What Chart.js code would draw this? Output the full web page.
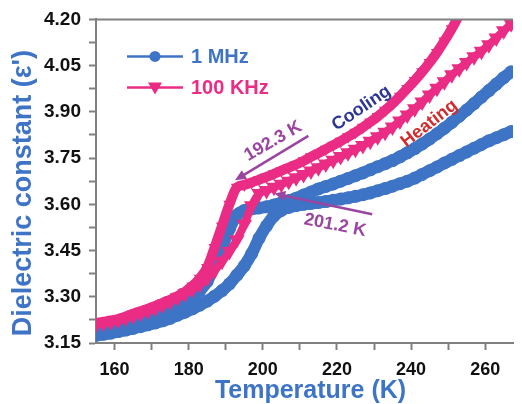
<!DOCTYPE html>
<html lang="en">
<head>
<meta charset="UTF-8" />
<title>Dielectric constant vs temperature</title>
<script src="https://cdn.jsdelivr.net/npm/chart.js"></script>
<style>
  html, body { margin:0; padding:0; background:#fff; }
</style>
</head>
<body>
<canvas id="chart" width="522" height="404"></canvas>

<script>
// ---- data (temperature in K, dielectric constant) ----
const temps = [155,157,159,161,163,165,167,169,171,173,175,177,179,181,183,185,187,189,191,193,
               195,197,199,201,203,205,207,209,211,213,215,217,219,221,223,225,227,229,231,233,
               235,237,239,241,243,245,247,249,251,253,255,257,259,261,263,265,267];

// 1 MHz, cooling (upper blue)
const mhzCool = [3.185,3.189,3.193,3.198,3.204,3.210,3.218,3.226,3.234,3.244,3.255,3.267,3.280,3.297,3.320,3.350,3.400,3.460,3.520,3.565,
                 3.580,3.585,3.588,3.592,3.598,3.605,3.612,3.620,3.630,3.640,3.650,3.658,3.666,3.675,3.684,3.693,3.702,3.712,3.722,3.732,
                 3.742,3.754,3.767,3.781,3.796,3.812,3.829,3.847,3.866,3.886,3.906,3.927,3.948,3.969,3.990,4.011,4.030];
// 1 MHz, heating (lower blue)
const mhzHeat = [3.175,3.178,3.182,3.187,3.192,3.197,3.203,3.209,3.215,3.222,3.230,3.240,3.250,3.261,3.273,3.286,3.302,3.320,3.342,3.370,
                 3.400,3.440,3.490,3.530,3.562,3.580,3.590,3.596,3.600,3.603,3.606,3.609,3.613,3.617,3.621,3.626,3.631,3.637,3.644,3.651,
                 3.659,3.667,3.675,3.685,3.697,3.709,3.721,3.734,3.746,3.758,3.770,3.782,3.794,3.806,3.816,3.826,3.836];
// 100 KHz, cooling (upper pink)
const khzCool = [3.215,3.219,3.223,3.228,3.236,3.245,3.253,3.261,3.270,3.280,3.290,3.302,3.316,3.335,3.360,3.395,3.460,3.530,3.600,3.655,
                 3.663,3.671,3.680,3.689,3.699,3.709,3.719,3.729,3.741,3.754,3.766,3.779,3.792,3.805,3.819,3.834,3.850,3.867,3.885,3.905,
                 3.927,3.951,3.976,4.002,4.030,4.060,4.093,4.130,4.170,4.215,null,null,null,null,null,null,null];
// 100 KHz, heating (lower pink)
const khzHeat = [3.210,3.214,3.218,3.223,3.230,3.238,3.246,3.254,3.263,3.273,3.284,3.297,3.310,3.324,3.340,3.360,3.385,3.415,3.447,3.485,
                 3.535,3.595,3.635,3.645,3.655,3.665,3.675,3.686,3.697,3.708,3.719,3.731,3.743,3.755,3.767,3.779,3.791,3.805,3.819,3.834,
                 3.851,3.870,3.890,3.910,3.932,3.955,3.977,3.998,4.020,4.040,4.060,4.079,4.097,4.118,4.140,4.163,4.186];

const xTickVals  = [160,170,180,190,200,210,220,230,240,250,260];
const xLabelVals = [160,180,200,220,240,260];
const yTickVals  = [3.15,3.225,3.30,3.375,3.45,3.525,3.60,3.675,3.75,3.825,3.90,3.975,4.05,4.125,4.20];
const yLabelVals = [3.15,3.30,3.45,3.60,3.75,3.90,4.05,4.20];

// ---- colours ----
const BLUE   = '#3e74c5';
const PINK   = '#ea2c85';
const PURPLE = '#9a45a0';
const FONT   = "'Liberation Sans', Arial, sans-serif";

// ---- annotations (data coordinates) ----
const notes = [
  { text:'192.3 K', x:202.8, y:3.805, angle:-30, color:PURPLE },
  { text:'201.2 K', x:219.5, y:3.532, angle:11,  color:PURPLE },
  { text:'Cooling', x:226.6, y:3.912, angle:-34, color:'#2d3593' },
  { text:'Heating', x:244.9, y:3.862, angle:-38, color:'#d22b2b' }
];
const arrows = [
  { from:[212.3,3.822], to:[192.5,3.678] },
  { from:[229.5,3.568], to:[203.1,3.635] }
];
const legendItems = [
  { label:'1 MHz',   color:BLUE, marker:'circle' },
  { label:'100 KHz', color:PINK, marker:'triangle' }
];

const series = (label, values, color, style, order, lineW, radius) => ({
  label,
  data: temps.map((t,i) => ({ x:t, y:values[i] })),
  borderColor: color,
  backgroundColor: color,
  borderWidth: lineW,
  pointStyle: style,
  pointRotation: style === 'triangle' ? 180 : 0,
  pointRadius: radius,
  pointBorderWidth: 0,
  pointBackgroundColor: color,
  cubicInterpolationMode: 'monotone',
  spanGaps: false,
  fill: false,
  order
});

// custom drawing: frame top, legend, axis titles, arrows and labels
const extras = {
  id: 'extras',
  afterDatasetsDraw(chart) {
    const { ctx, chartArea: a, scales: { x, y } } = chart;
    ctx.save();

    // top frame line
    ctx.strokeStyle = '#808080';
    ctx.lineWidth = 2;
    ctx.beginPath();
    ctx.moveTo(a.left, a.top);
    ctx.lineTo(a.right, a.top);
    ctx.stroke();

    // legend
    legendItems.forEach((it, i) => {
      const ly = a.top + 37 + i * 31;
      const lx = a.left + 31;
      ctx.strokeStyle = it.color;
      ctx.fillStyle = it.color;
      ctx.lineWidth = 2.5;
      ctx.beginPath();
      ctx.moveTo(lx, ly);
      ctx.lineTo(lx + 56, ly);
      ctx.stroke();
      const cx = lx + 28;
      ctx.beginPath();
      if (it.marker === 'circle') {
        ctx.arc(cx, ly, 5.5, 0, Math.PI * 2);
      } else {
        ctx.moveTo(cx - 7, ly - 5);
        ctx.lineTo(cx + 7, ly - 5);
        ctx.lineTo(cx, ly + 7);
        ctx.closePath();
      }
      ctx.fill();
      ctx.font = `bold 20px ${FONT}`;
      ctx.textBaseline = 'middle';
      ctx.textAlign = 'left';
      ctx.fillText(it.label, lx + 64, ly + 1);
    });

    // arrows
    arrows.forEach(ar => {
      const x1 = x.getPixelForValue(ar.from[0]), y1 = y.getPixelForValue(ar.from[1]);
      const x2 = x.getPixelForValue(ar.to[0]),   y2 = y.getPixelForValue(ar.to[1]);
      const ang = Math.atan2(y2 - y1, x2 - x1);
      ctx.strokeStyle = PURPLE;
      ctx.fillStyle = PURPLE;
      ctx.lineWidth = 2.5;
      ctx.beginPath();
      ctx.moveTo(x1, y1);
      ctx.lineTo(x2 - Math.cos(ang) * 8, y2 - Math.sin(ang) * 8);
      ctx.stroke();
      ctx.beginPath();
      ctx.moveTo(x2, y2);
      ctx.lineTo(x2 - Math.cos(ang) * 11 + Math.sin(ang) * 5, y2 - Math.sin(ang) * 11 - Math.cos(ang) * 5);
      ctx.lineTo(x2 - Math.cos(ang) * 11 - Math.sin(ang) * 5, y2 - Math.sin(ang) * 11 + Math.cos(ang) * 5);
      ctx.closePath();
      ctx.fill();
    });

    // rotated labels
    notes.forEach(n => {
      ctx.save();
      ctx.translate(x.getPixelForValue(n.x), y.getPixelForValue(n.y));
      ctx.rotate(n.angle * Math.PI / 180);
      ctx.font = `bold 18px ${FONT}`;
      ctx.fillStyle = n.color;
      ctx.textAlign = 'center';
      ctx.textBaseline = 'middle';
      ctx.fillText(n.text, 0, 0);
      ctx.restore();
    });

    // axis titles
    ctx.fillStyle = BLUE;
    ctx.textAlign = 'center';
    ctx.textBaseline = 'middle';
    ctx.font = `bold 25px ${FONT}`;
    ctx.fillText('Temperature (K)', (a.left + a.right) / 2 + 6, 391);
    ctx.save();
    ctx.translate(24, (a.top + a.bottom) / 2 + 12);
    ctx.rotate(-Math.PI / 2);
    ctx.font = `bold 27px ${FONT}`;
    ctx.fillText("Dielectric constant (\u03B5')", 0, 0);
    ctx.restore();

    ctx.restore();
  }
};

new Chart(document.getElementById('chart'), {
  type: 'line',
  data: {
    datasets: [
      series('100 KHz cooling', khzCool, PINK, 'triangle', 1, 10, 7),
      series('100 KHz heating', khzHeat, PINK, 'triangle', 2, 8, 9),
      series('1 MHz cooling',   mhzCool, BLUE, 'circle', 3, 12, 6.5),
      series('1 MHz heating',   mhzHeat, BLUE, 'circle', 4, 12, 6.5)
    ]
  },
  options: {
    responsive: false,
    animation: false,
    devicePixelRatio: 1,
    layout: { padding: { top: 18, right: 0, left: 0, bottom: 0 } },
    plugins: { legend: { display: false }, tooltip: { enabled: false } },
    scales: {
      x: {
        type: 'linear',
        min: 155,
        max: 267.5,
        afterBuildTicks: s => { s.ticks = xTickVals.map(v => ({ value: v })); },
        afterFit: s => { s.height = 61; },
        ticks: {
          autoSkip: false,
          maxRotation: 0,
          padding: 9,
          color: '#111',
          font: { family: FONT, size: 18, weight: 'bold' },
          callback: v => xLabelVals.includes(v) ? String(v) : ''
        },
        grid: { drawOnChartArea: false, drawTicks: true, tickLength: 7, tickColor: '#808080', tickWidth: 2 },
        border: { color: '#808080', width: 2 }
      },
      y: {
        min: 3.15,
        max: 4.20,
        afterBuildTicks: s => { s.ticks = yTickVals.map(v => ({ value: v })); },
        afterFit: s => { s.width = 96; },
        ticks: {
          autoSkip: false,
          padding: 8,
          color: '#111',
          font: { family: FONT, size: 19, weight: 'bold' },
          callback: v => yLabelVals.some(l => Math.abs(l - v) < 1e-6) ? v.toFixed(2) : ''
        },
        grid: { drawOnChartArea: false, drawTicks: true, tickLength: 7, tickColor: '#808080', tickWidth: 2 },
        border: { color: '#808080', width: 2 }
      }
    }
  },
  plugins: [extras]
});
</script>
</body>
</html>
